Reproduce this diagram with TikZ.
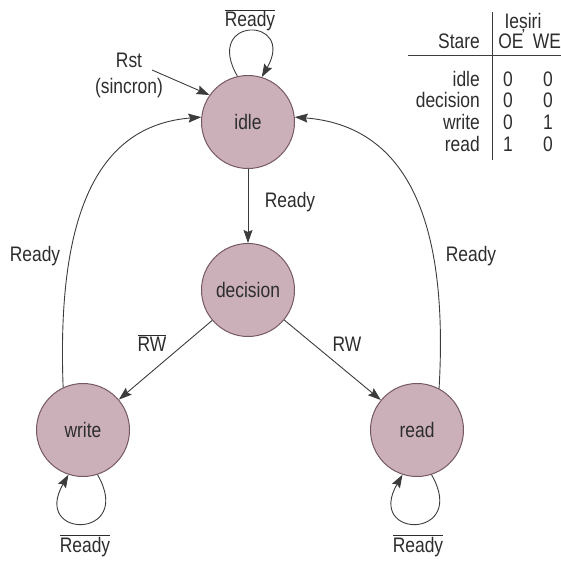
\documentclass[tikz,border=0pt]{standalone}
\usepackage{fontspec}
\setmainfont{Liberation Sans}[FakeStretch=0.83]
\usetikzlibrary{arrows.meta}
\definecolor{stfill}{RGB}{203,176,186}
\definecolor{stdraw}{RGB}{118,88,100}
\definecolor{ln}{RGB}{60,60,60}
\definecolor{tx}{RGB}{45,45,45}
\begin{document}
\begin{tikzpicture}[x=1pt,y=1pt,
  font=\fontsize{21}{26}\selectfont,
  state/.style={circle,draw=stdraw,fill=stfill,line width=1pt,minimum size=93pt,inner sep=0pt,text=tx},
  tr/.style={draw=ln,line width=0.9pt,-{Stealth[length=13pt,width=9pt,inset=2pt]}},
  lbl/.style={text=tx,inner sep=0pt,anchor=base},
  rowname/.style={text=tx,inner sep=0pt,anchor=base east},
  rule/.style={draw=ln,line width=0.9pt}]
\useasboundingbox (0,0) rectangle (561,560);

% states
\node[state] (idle) at (248,438) {idle};
\node[state] (decision) at (248,270) {decision};
\node[state] (write) at (83,130) {write};
\node[state] (read) at (417,130) {read};

% synchronous reset
\coordinate (rstfrom) at (152,490);
\node[text=tx,align=center,inner sep=0pt] (rst) at (129,485) {Rst\\(sincron)};
\draw[tr] (rstfrom) -- (idle.145);

% self loops
\draw[tr] (idle.103) .. controls +(120:70) and +(60:70) .. (idle.73);
\node[lbl] (lidle) at (250,533) {$\overline{\mbox{Ready}}$};
\draw[tr] (write.-72) .. controls +(-60:75) and +(-120:75) .. (write.-108);
\node[lbl] (lwrite) at (85,8) {$\overline{\mbox{Ready}}$};
\draw[tr] (read.-72) .. controls +(-60:75) and +(-120:75) .. (read.-108);
\node[lbl] (lread) at (418,8) {$\overline{\mbox{Ready}}$};

% transitions
\draw[tr] (idle) -- (decision);
\node[lbl] (l1) at (290,352) {Ready};
\draw[tr] (decision) -- (write);
\node[lbl] (l2) at (152,209) {$\overline{\mbox{RW}}$};
\draw[tr] (decision) -- (read);
\node[lbl] (l3) at (347,209) {RW};
\draw[tr] (write.115) .. controls (56,360) and (105,435) .. (idle.174);
\node[lbl] (l4) at (35,299) {Ready};
\draw[tr] (read.62) .. controls (450,360) and (395,435) .. (idle.6);
\node[lbl] (l5) at (471,299) {Ready};

% output table
\node[lbl] (hout) at (523,531) {Ieșiri};
\node[rowname] (hstate) at (480,511) {Stare};
\node[lbl] (hoe) at (511,511) {OE};
\node[lbl] (hwe) at (547,511) {WE};
\draw[rule] (408,505) -- (561,505);
\draw[rule] (492,548) -- (492,400);
\node[rowname] (r1) at (480,473) {idle};
\node[lbl] (r1a) at (508,473) {0};
\node[lbl] (r1b) at (548,473) {0};
\node[rowname] (r2) at (480,452) {decision};
\node[lbl] (r2a) at (508,452) {0};
\node[lbl] (r2b) at (548,452) {0};
\node[rowname] (r3) at (480,430) {write};
\node[lbl] (r3a) at (508,430) {0};
\node[lbl] (r3b) at (548,430) {1};
\node[rowname] (r4) at (480,408) {read};
\node[lbl] (r4a) at (508,408) {1};
\node[lbl] (r4b) at (548,408) {0};
\end{tikzpicture}
\end{document}
